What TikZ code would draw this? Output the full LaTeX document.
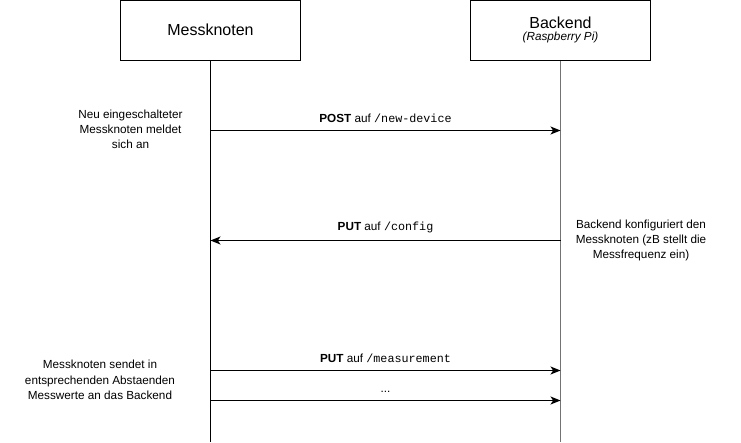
\documentclass[tikz,border=0pt]{standalone}
\usepackage{fontspec}
\setmainfont{Liberation Sans}
\setmonofont{Liberation Mono}
\usetikzlibrary{arrows.meta}

\begin{document}
\begin{tikzpicture}[x=0.75pt, y=-0.75pt, >={Stealth[length=7.5pt,width=6pt,inset=2pt]},
    teilnehmer/.style={draw, line width=0.9pt, minimum width=135pt, minimum height=45pt, inner sep=0pt},
    lebenslinie/.style={line width=0.8pt},
    nachricht/.style={->, line width=0.8pt},
    beschriftung/.style={font=\fontsize{8.8}{11.4}\selectfont, align=center, inner sep=0pt}]
    \useasboundingbox (0,0) rectangle (741,442);

    % --- Teilnehmer ---
    \node[teilnehmer] (mk) at (210.5,30.5) {};
    \node[font=\fontsize{12}{14}\selectfont] (mktitel) at (210.5,29.5) {Messknoten};
    \node[teilnehmer] (be) at (560.5,30.5) {};
    \node[font=\fontsize{12}{14}\selectfont] (betitel) at (560.5,22.5) {Backend};
    \node[font=\fontsize{8.8}{10}\selectfont\itshape] (beuntertitel) at (560.5,37.5) {(Raspberry Pi)};

    % --- Lebenslinien ---
    \coordinate (mkende) at (210.5,442);
    \coordinate (beende) at (560.5,442);
    \draw[lebenslinie] (mk.south) -- (mkende);
    \draw[lebenslinie, black!55] (be.south) -- (beende);

    % Punkte auf den Lebenslinien
    \foreach \name/\y in {a/130.5, b/240.5, c/370.5, d/400.5} {
      \coordinate (mk\name) at (210.5,\y);
      \coordinate (be\name) at (560.5,\y);
    }

    % --- Nachrichten ---
    \draw[nachricht] (mka) -- (bea) node[beschriftung, midway, above=5.5pt] (na) {\textbf{POST} auf \texttt{/new-device}};
    \draw[nachricht] (beb) -- (mkb) node[beschriftung, midway, above=5.5pt] (nb) {\textbf{PUT} auf \texttt{/config}};
    \draw[nachricht] (mkc) -- (bec) node[beschriftung, midway, above=5.5pt] (nc) {\textbf{PUT} auf \texttt{/measurement}};
    \draw[nachricht] (mkd) -- (bed) node[beschriftung, midway, above=5.5pt] (nd) {...};

    % --- Erklaerungen ---
    \node[beschriftung] (txtanmeldung) at (130.5,129.5) {Neu eingeschalteter\\Messknoten meldet\\sich an};
    \node[beschriftung] (txtkonfig) at (641,240.5) {Backend konfiguriert den\\Messknoten (zB stellt die\\Messfrequenz ein)};
    \node[beschriftung] (txtmessung) at (100,380) {Messknoten sendet in\\entsprechenden Abstaenden\\Messwerte an das Backend};
\end{tikzpicture}
\end{document}
